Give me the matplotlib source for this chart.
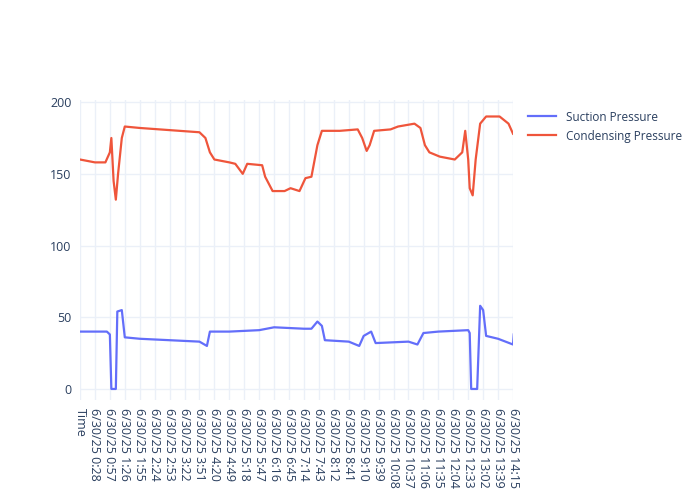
import matplotlib.pyplot as plt

plt.rcParams['font.family'] = ['Open Sans', 'DejaVu Sans']

tick_labels = ["Time", "6/30/25 0:28", "6/30/25 0:57", "6/30/25 1:26", "6/30/25 1:55",
               "6/30/25 2:24", "6/30/25 2:53", "6/30/25 3:22", "6/30/25 3:51",
               "6/30/25 4:20", "6/30/25 4:49", "6/30/25 5:18", "6/30/25 5:47",
               "6/30/25 6:16", "6/30/25 6:45", "6/30/25 7:14", "6/30/25 7:43",
               "6/30/25 8:12", "6/30/25 8:41", "6/30/25 9:10", "6/30/25 9:39",
               "6/30/25 10:08", "6/30/25 10:37", "6/30/25 11:06", "6/30/25 11:35",
               "6/30/25 12:04", "6/30/25 12:33", "6/30/25 13:02", "6/30/25 13:39",
               "6/30/25 14:15"]

# positions in tick units
cond_x = [0, 1, 1.7, 2, 2.1, 2.25, 2.4, 2.55, 2.8, 3.0, 4, 6, 8, 8.4, 8.7, 9.0, 10, 10.4,
          10.9, 11.2, 12.2, 12.4, 12.9, 13.7, 14.1, 14.7, 15.1, 15.5, 15.9, 16.2, 17.4,
          18.6, 18.9, 19.2, 19.4, 19.7, 20.8, 21.3, 22.4, 22.8, 23.1, 23.4, 24.1, 25.1,
          25.6, 25.8, 26.0, 26.1, 26.3, 26.5, 26.8, 27.2, 28.1, 28.7, 29]
cond_y = [160, 158, 158, 165, 175, 145, 132, 150, 175, 183, 182, 180.5, 179, 175, 165, 160,
          158, 157, 150, 157, 156, 148, 138, 138, 140, 138, 147, 148, 170, 180, 180,
          181, 175, 166, 170, 180, 181, 183, 185, 182, 170, 165, 162, 160,
          165, 180, 160, 140, 135, 160, 185, 190, 190, 185, 178]

suc_x = [0, 1.8, 2.0, 2.1, 2.4, 2.5, 2.8, 3.0, 4, 6, 8, 8.5, 8.7, 10, 12, 13, 15, 15.5,
         15.9, 16.2, 16.4, 18, 18.7, 19, 19.5, 19.8, 22, 22.6, 23, 24, 26, 26.1, 26.2,
         26.6, 26.8, 27, 27.2, 28, 29, 29.05]
suc_y = [40, 40, 38, 0, 0, 54, 55, 36, 35, 34, 33, 30, 40, 40, 41, 43, 42, 42,
         47, 44, 34, 33, 30, 37, 40, 32, 33, 31, 39, 40, 41, 39, 0,
         0, 58, 55, 37, 35, 31, 38]

fig = plt.figure(figsize=(7, 5), dpi=100)
ax = fig.add_axes([80/700, 0.2, 433/700, 0.6])
ax.plot(suc_x, suc_y, color="#636efa", lw=1.6, label="Suction Pressure")
ax.plot(cond_x, cond_y, color="#EF553B", lw=1.6, label="Condensing Pressure")
ax.set_xlim(0, 29)
ax.set_ylim(-7.7, 201.5)
ax.set_xticks(range(len(tick_labels)))
ax.set_xticklabels(tick_labels, rotation=-90, color="#2a3f5f", fontsize=9)
ax.set_yticks([0, 50, 100, 150, 200])
ax.tick_params(axis="y", colors="#2a3f5f", labelsize=9)
ax.tick_params(length=0, pad=6)
ax.grid(color="#ebf0f8", lw=1)
ax.set_axisbelow(True)
for s in ax.spines.values():
    s.set_visible(False)
ax.legend(loc="upper left", bbox_to_anchor=(1.01, 1.0), frameon=False,
          fontsize=8.5, labelcolor="#2a3f5f", handlelength=2.4)
fig.savefig("out.png")
